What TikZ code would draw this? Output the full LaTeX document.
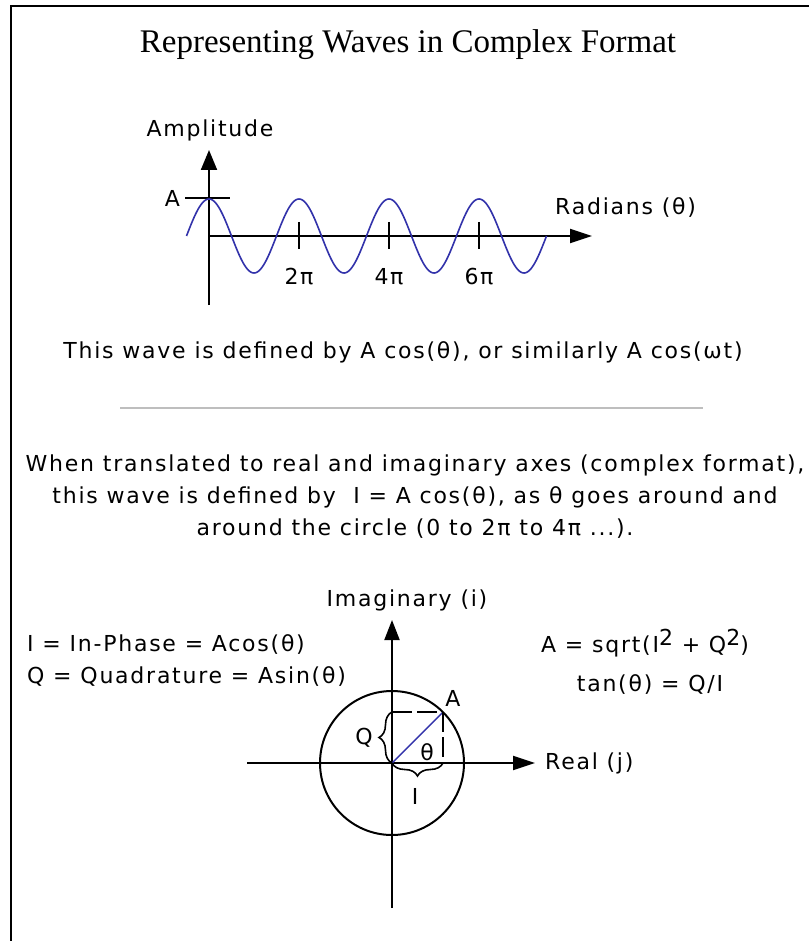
\documentclass[tikz,border=0pt]{standalone}
\usepackage{fontspec}
\setmainfont{DejaVu Sans}
\newfontfamily\titlefont{Liberation Serif}
\usetikzlibrary{arrows.meta,decorations.pathreplacing}
\definecolor{wavecol}{RGB}{50,50,170}
\definecolor{sepcol}{RGB}{190,190,190}
\begin{document}
\begin{tikzpicture}[x=1pt,y=-1pt,
  txt/.style={inner sep=0pt, font=\fontsize{22}{32}\selectfont\addfontfeature{LetterSpace=8}},
  titletxt/.style={inner sep=0pt, font=\titlefont\fontsize{33}{36}\selectfont},
  axis/.style={line width=2pt, black},
  wave/.style={line width=1.6pt, wavecol},
  tick/.style={line width=2pt, black},
  frameline/.style={line width=2.2pt, black},
  dashline/.style={line width=1.8pt, black, dash pattern=on 20pt off 5pt},
  bracebox/.style={line width=1.6pt, black, decorate, decoration={brace, amplitude=13pt}}
]
\useasboundingbox (0,0) rectangle (809,941);
\fill[white] (0,0) rectangle (809,941);
% frame
\coordinate (fbl) at (11,941);
\coordinate (ftl) at (11,6);
\coordinate (ftr) at (809,6);
\draw[frameline] (fbl) -- (ftl) -- (ftr);
% title
\node[titletxt] (title) at (408,45) {Representing Waves in Complex Format};
% wave plot
\coordinate (wo) at (209,236);
\coordinate (wtop) at (209,150);
\coordinate (wbot) at (209,305);
\coordinate (wright) at (592,236);
\draw[axis, -{Triangle[length=20pt,width=16pt]}] (wbot) -- (wtop);
\draw[axis, -{Triangle[length=22pt,width=14pt]}] (wo) -- (wright);
\node[txt] (amp) at (210,130) {Amplitude};
\coordinate (al) at (185,198);
\coordinate (ar) at (230,198);
\draw[tick] (al) -- (ar);
\node[txt, anchor=east] (alab) at (180,198) {A};
\draw[wave] plot[domain=-90:1350, samples=289, smooth] ({209+\x/4}, {236-37*cos(\x)});
\foreach \k/\lab in {1/2π, 2/4π, 3/6π} {
  \coordinate (t\k a) at ({209+90*\k},222);
  \coordinate (t\k b) at ({209+90*\k},249);
  \draw[tick] (t\k a) -- (t\k b);
  \node[txt] (tl\k) at ({209+90*\k},277) {\lab};
}
\node[txt, anchor=west] (rad) at (555,208) {Radians (θ)};
\node[txt] (def1) at (403,352) {This wave is defined by A cos(θ), or similarly A cos(ωt)};
% separator
\coordinate (s1) at (120,408);
\coordinate (s2) at (703,408);
\draw[line width=2pt, sepcol] (s1) -- (s2);
% paragraph
\node[txt, align=center] (para) at (415,497) {When translated to real and imaginary axes (complex format),\\this wave is defined by\ \ I = A cos(θ), as θ goes around and\\around the circle (0 to 2π to 4π ...).};
% complex plane
\coordinate (c) at (392,763);
\coordinate (itop) at (392,620);
\coordinate (ibot) at (392,908);
\coordinate (rl) at (247,763);
\coordinate (rr) at (535,763);
\draw[axis] (c) circle[radius=72];
\draw[axis, -{Triangle[length=20pt,width=15pt]}] (ibot) -- (itop);
\draw[axis, -{Triangle[length=22pt,width=14pt]}] (rl) -- (rr);
\node[txt] (imag) at (407,600) {Imaginary (i)};
\node[txt, anchor=west] (real) at (545,763) {Real (j)};
\coordinate (pa) at (443,712);
\coordinate (qa) at (392,712);
\coordinate (ia) at (443,763);
\draw[line width=1.4pt, wavecol] (c) -- (pa);
\draw[dashline] (qa) -- (pa);
\draw[dashline] (pa) -- (ia);
\draw[bracebox] (c) -- (qa);
\draw[bracebox] (ia) -- (c);
\node[txt] (alabc) at (453,698) {A};
\node[txt] (qlab) at (364,738) {Q};
\node[txt] (thlab) at (427,752) {θ};
\node[txt] (ilab) at (415,796) {I};
% formulas
\node[txt, anchor=west] (inph) at (27,644) {I = In-Phase = Acos(θ)};
\node[txt, anchor=west] (quad) at (27,676) {Q = Quadrature = Asin(θ)};
\node[txt] (amag) at (645,643) {A = sqrt(I\raisebox{7pt}{2} + Q\raisebox{7pt}{2})};
\node[txt] (tanf) at (650,684) {tan(θ) = Q/I};
\end{tikzpicture}
\end{document}
